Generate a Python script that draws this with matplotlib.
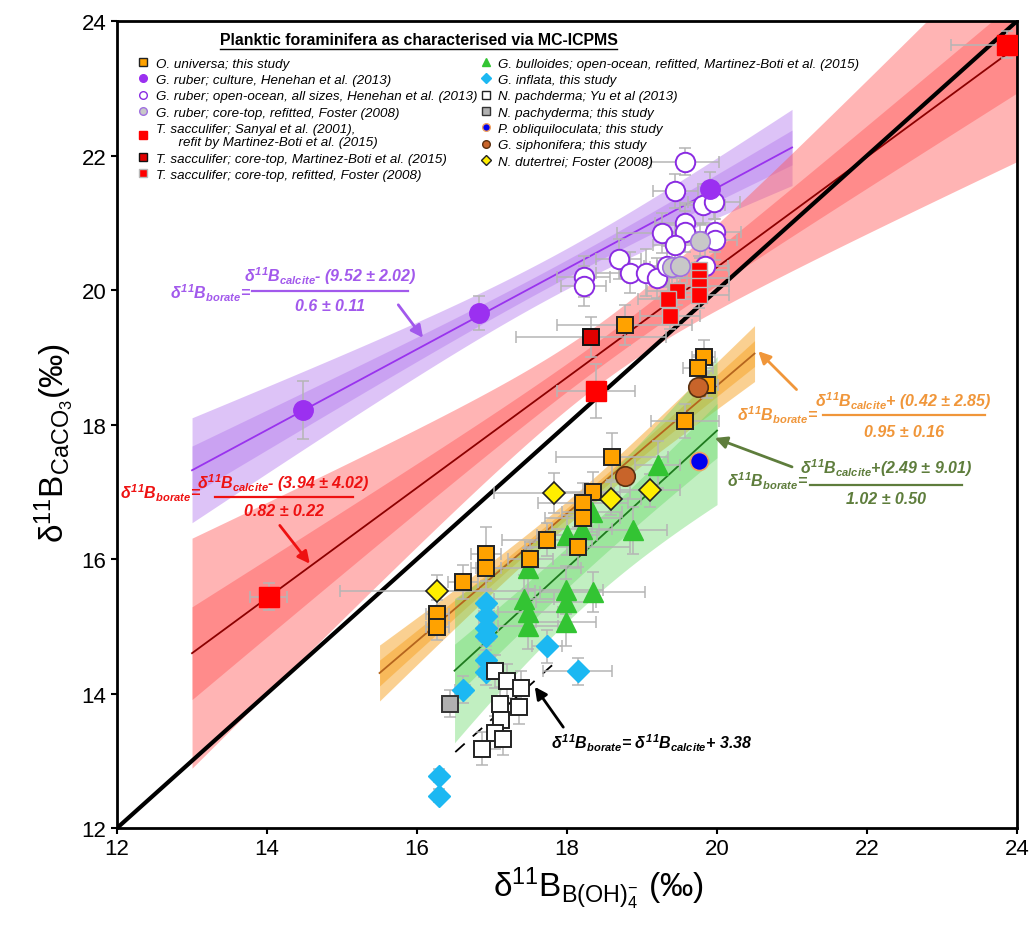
import numpy as np
import matplotlib
matplotlib.use('Agg')
import matplotlib.pyplot as plt
from matplotlib.lines import Line2D
from matplotlib import font_manager

# pick a narrow font for the equations if there is one
names = set(f.name for f in font_manager.fontManager.ttflist)
NARROW = 'Liberation Sans Narrow' if 'Liberation Sans Narrow' in names else 'Liberation Sans'

plt.rcParams['font.family'] = ['Liberation Sans', 'DejaVu Sans']
plt.rcParams['mathtext.fontset'] = 'custom'
plt.rcParams['mathtext.it'] = NARROW + ':italic:bold'
plt.rcParams['mathtext.rm'] = NARROW + ':italic:bold'
plt.rcParams['mathtext.bf'] = NARROW + ':bold'
plt.rcParams['mathtext.sf'] = 'Liberation Sans'

# ---- data ----
# O. universa; this study
univ_x = [19.82, 19.75, 19.86, 19.57, 18.60, 18.34, 18.21, 18.21, 17.73, 18.14, 17.51, 16.92, 16.92, 16.61, 16.27, 16.27, 18.77]
univ_y = [19.01, 18.84, 18.59, 18.05, 17.52, 16.99, 16.83, 16.61, 16.29, 16.18, 16.00, 16.08, 15.86, 15.66, 15.19, 14.99, 19.48]
univ_xerr = [0.15, 0.2, 0.15, 0.45, 0.75, 0.5, 0.6, 0.5, 0.6, 0.7, 0.3, 0.2, 0.2, 0.2, 0.15, 0.15, 0.9]
univ_yerr = [0.25, 0.2, 0.2, 0.25, 0.35, 0.3, 0.3, 0.3, 0.25, 0.3, 0.25, 0.4, 0.3, 0.25, 0.2, 0.2, 0.3]

# G. ruber; culture
rc_x = [14.48, 16.82, 19.90]
rc_y = [18.21, 19.66, 21.50]
rc_xerr = [0.05, 0.05, 0.1]
rc_yerr = [0.43, 0.25, 0.25]

# G. ruber; open-ocean
ro_x = [19.57, 19.44, 19.81, 19.96, 19.57, 19.57, 19.27, 19.97, 19.97, 19.44, 18.69, 18.84, 19.05, 19.20, 18.22, 18.22, 19.33, 19.84]
ro_y = [21.91, 21.47, 21.27, 21.31, 21.00, 20.87, 20.85, 20.87, 20.75, 20.67, 20.46, 20.26, 20.26, 20.18, 20.20, 20.06, 20.35, 20.35]
ro_xerr = [0.45, 0.3, 0.3, 0.35, 0.4, 0.3, 0.6, 0.35, 0.3, 0.3, 0.3, 0.45, 0.35, 0.4, 0.35, 0.3, 0.3, 0.3]
ro_yerr = [0.2, 0.25, 0.3, 0.25, 0.3, 0.3, 0.3, 0.3, 0.3, 0.3, 0.3, 0.3, 0.35, 0.3, 0.3, 0.3, 0.3, 0.3]

# G. ruber; core-top, Foster
ct_x = [19.77, 19.40, 19.50]
ct_y = [20.73, 20.34, 20.35]
ct_xerr = [0.3, 0.3, 0.3]
ct_yerr = [0.25, 0.25, 0.25]

# T. sacculifer; Sanyal refit
ts_x = [14.02, 18.39, 23.87]
ts_y = [15.44, 18.50, 23.65]
ts_xerr = [0.25, 0.52, 0.75]
ts_yerr = [0.2, 0.4, 0.2]

# T. sacculifer; core-top, Martinez-Boti
tm_x = [18.32]
tm_y = [19.30]
tm_xerr = [1.0]
tm_yerr = [0.3]

# T. sacculifer; core-top, Foster
tf_x = [19.76, 19.76, 19.76, 19.76, 19.47, 19.34, 19.37]
tf_y = [20.30, 20.18, 20.06, 19.93, 19.98, 19.86, 19.62]
tf_xerr = [0.4, 0.4, 0.4, 0.4, 0.4, 0.4, 0.4]
tf_yerr = [0.2, 0.2, 0.2, 0.2, 0.2, 0.2, 0.2]

# G. bulloides
gb_x = [19.21, 18.88, 18.33, 18.20, 18.00, 17.48, 17.42, 17.48, 17.48, 17.98, 17.98, 17.98, 18.34]
gb_y = [17.40, 16.43, 16.70, 16.45, 16.36, 15.86, 15.41, 15.21, 15.01, 15.54, 15.36, 15.06, 15.51]
gb_xerr = [0.3, 0.45, 0.4, 0.4, 0.4, 0.7, 0.4, 0.4, 0.4, 0.5, 0.4, 0.4, 0.7]
gb_yerr = [0.35, 0.35, 0.3, 0.3, 0.3, 0.3, 0.35, 0.35, 0.35, 0.35, 0.35, 0.35, 0.3]

# G. inflata
gi_x = [16.92, 16.92, 16.92, 16.92, 16.92, 16.92, 16.61, 17.73, 18.14, 16.29, 16.29]
gi_y = [15.34, 15.15, 14.98, 14.85, 14.50, 14.32, 14.06, 14.70, 14.33, 12.78, 12.48]
gi_xerr = [0.1, 0.1, 0.1, 0.1, 0.1, 0.1, 0.1, 0.2, 0.46, 0.05, 0.05]
gi_yerr = [0.2, 0.2, 0.2, 0.2, 0.2, 0.2, 0.2, 0.25, 0.2, 0.1, 0.1]

# N. pachyderma; Yu et al
np_x = [17.04, 17.20, 17.38, 17.11, 17.36, 17.12, 17.04, 17.14, 16.87]
np_y = [14.33, 14.19, 14.08, 13.85, 13.80, 13.61, 13.42, 13.33, 13.18]
np_xerr = [0.1] * 9
np_yerr = [0.25] * 9

# N. pachyderma; this study
nt_x = [16.44]
nt_y = [13.85]
nt_yerr = [0.2]

# P. obliquiloculata
po_x = [19.76]
po_y = [17.46]

# G. siphonifera
gs_x = [19.75, 18.77]
gs_y = [18.56, 17.23]

# N. dutertrei
nd_x = [18.58, 19.11, 17.83, 16.27]
nd_y = [16.90, 17.02, 16.98, 15.52]
nd_xerr = [0.4, 0.4, 0.8, 1.3]
nd_yerr = [0.25, 0.25, 0.3, 0.25]

# regressions: calcite = slope * borate + intercept
fit_slope = [0.6, 0.82, 0.95, 1.02]
fit_icpt = [9.52, 3.94, -0.42, -2.49]
fit_lo = [13.0, 13.0, 15.5, 16.5]
fit_hi = [21.0, 24.0, 20.5, 20.0]
# confidence band shape: centre, outer (a, k), inner (a, k)
band_xm = [17.8, 18.5, 18.0, 18.2]
band_outer = [(0.3, 0.15), (0.45, 0.3), (0.18, 0.15), (0.8, 0.42)]
band_inner = [(0.13, 0.07), (0.2, 0.12), (0.08, 0.07), (0.3, 0.15)]
band_col = ['#b57bee', '#ff5a5a', '#f7a325', '#66d966']
band_alpha = [0.45, 0.45, 0.5, 0.4]
line_col = ['#9933ee', '#8b0000', '#b5651d', '#1e7a1e']

# Yu et al. offset line
dash_x = [16.51, 17.80]
dash_off = -3.38
ident = [12, 24]

fig = plt.figure(figsize=(10.32, 9.29), dpi=100)
ax = fig.add_axes([0.1134, 0.1076, 0.8721, 0.8687])

for i in range(4):
    xs = np.linspace(fit_lo[i], fit_hi[i], 200)
    yl = fit_slope[i] * xs + fit_icpt[i]
    ao, ko = band_outer[i]
    ai, ki = band_inner[i]
    hwo = np.sqrt(ao ** 2 + (ko * (xs - band_xm[i])) ** 2)
    hwi = np.sqrt(ai ** 2 + (ki * (xs - band_xm[i])) ** 2)
    ax.fill_between(xs, yl - hwo, yl + hwo, color=band_col[i], alpha=band_alpha[i], lw=0, zorder=1)
    ax.fill_between(xs, yl - hwi, yl + hwi, color=band_col[i], alpha=band_alpha[i], lw=0, zorder=1)
    ax.plot(xs, yl, color=line_col[i], lw=1.3, zorder=2)

ax.plot(ident, ident, color='black', lw=3, zorder=3)
dx = np.array(dash_x)
ax.plot(dx, dx + dash_off, color='black', lw=1.3, dashes=(7, 6), zorder=3)

# error bars first, so the markers sit on top
ecol = '#b5b5b5'
eb = dict(fmt='none', ecolor=ecol, elinewidth=1.1, capsize=4, capthick=1.1, zorder=4)
ax.errorbar(ro_x, ro_y, xerr=ro_xerr, yerr=ro_yerr, **eb)
ax.errorbar(ct_x, ct_y, xerr=ct_xerr, yerr=ct_yerr, **eb)
ax.errorbar(rc_x, rc_y, xerr=rc_xerr, yerr=rc_yerr, **eb)
ax.errorbar(gb_x, gb_y, xerr=gb_xerr, yerr=gb_yerr, **eb)
ax.errorbar(gi_x, gi_y, xerr=gi_xerr, yerr=gi_yerr, **eb)
ax.errorbar(np_x, np_y, xerr=np_xerr, yerr=np_yerr, **eb)
ax.errorbar(nt_x, nt_y, yerr=nt_yerr, **eb)
ax.errorbar(univ_x, univ_y, xerr=univ_xerr, yerr=univ_yerr, **eb)
ax.errorbar(ts_x, ts_y, xerr=ts_xerr, yerr=ts_yerr, **eb)
ax.errorbar(tm_x, tm_y, xerr=tm_xerr, yerr=tm_yerr, **eb)
ax.errorbar(tf_x, tf_y, xerr=tf_xerr, yerr=tf_yerr, **eb)
ax.errorbar(nd_x, nd_y, xerr=nd_xerr, yerr=nd_yerr, **eb)

st = {
    'univ': dict(marker='s', ms=12, mfc='#ffa200', mec='#222222', mew=1.4),
    'rc': dict(marker='o', ms=14, mfc='#9b30f0', mec='#9b30f0', mew=1),
    'ro': dict(marker='o', ms=14, mfc='white', mec='#8a2be2', mew=1.4),
    'ct': dict(marker='o', ms=14, mfc='#c8c8c8', mec='#a070e0', mew=1.2),
    'ts': dict(marker='s', ms=15, mfc='#ff0000', mec='#ff0000', mew=1),
    'tm': dict(marker='s', ms=12, mfc='#e00000', mec='#111111', mew=1.4),
    'tf': dict(marker='s', ms=12, mfc='#ff0000', mec='#b8b8b8', mew=1),
    'gb': dict(marker='^', ms=14, mfc='#33c433', mec='#33c433', mew=1),
    'gi': dict(marker='D', ms=11, mfc='#1cb8f2', mec='#1cb8f2', mew=1),
    'np': dict(marker='s', ms=12, mfc='white', mec='#222222', mew=1.4),
    'nt': dict(marker='s', ms=12, mfc='#b0b0b0', mec='#333333', mew=1.4),
    'po': dict(marker='o', ms=13, mfc='#0000ee', mec='#f0a060', mew=1.2),
    'gs': dict(marker='o', ms=14, mfc='#c8642a', mec='#5a3010', mew=1.2),
    'nd': dict(marker='D', ms=11, mfc='#ffee00', mec='#222222', mew=1.2),
}

def pts(x, y, key):
    ax.plot(x, y, ls='none', zorder=5, **st[key])

pts(ro_x, ro_y, 'ro')
pts(ct_x, ct_y, 'ct')
pts(rc_x, rc_y, 'rc')
pts(gb_x, gb_y, 'gb')
pts(gi_x, gi_y, 'gi')
pts(np_x, np_y, 'np')
pts(nt_x, nt_y, 'nt')
pts(univ_x, univ_y, 'univ')
pts(tf_x, tf_y, 'tf')
pts(ts_x, ts_y, 'ts')
pts(tm_x, tm_y, 'tm')
pts(gs_x, gs_y, 'gs')
pts(nd_x, nd_y, 'nd')
pts(po_x, po_y, 'po')

# ---- equations ----
EQ = dict(fontsize=11.5, fontstyle='italic', fontweight='bold', family=[NARROW, 'DejaVu Sans'])
LHS = r'$\delta^{11}B_{borate}$='

def frac(xl, yl, num, den, x0, x1, ybar, ynum, yden, color):
    ax.text(xl, yl, LHS, color=color, ha='left', va='baseline', zorder=6, **EQ)
    xc = (x0 + x1) / 2
    ax.text(xc, ynum, num, color=color, ha='center', va='baseline', zorder=6, **EQ)
    ax.plot([x0, x1], [ybar, ybar], color=color, lw=1.6, zorder=6)
    ax.text(xc, yden, den, color=color, ha='center', va='baseline', zorder=6, **EQ)

c_pur, c_red, c_org, c_grn = '#a259ec', '#ee1111', '#f0963a', '#5e7d3c'
frac(12.71, 19.88, r'$\delta^{11}B_{calcite}$- (9.52 ± 2.02)', '0.6 ± 0.11',
     13.80, 15.88, 19.99, 20.14, 19.70, c_pur)
frac(12.04, 16.90, r'$\delta^{11}B_{calcite}$- (3.94 ± 4.02)', '0.82 ± 0.22',
     13.30, 15.14, 16.92, 17.05, 16.65, c_red)
frac(20.27, 18.07, r'$\delta^{11}B_{calcite}$+ (0.42 ± 2.85)', '0.95 ± 0.16',
     21.41, 23.57, 18.14, 18.27, 17.83, c_org)
frac(20.13, 17.08, r'$\delta^{11}B_{calcite}$+(2.49 ± 9.01)', '1.02 ± 0.50',
     21.24, 23.27, 17.10, 17.28, 16.83, c_grn)
ax.text(17.78, 13.18, r'$\delta^{11}B_{borate}$= $\delta^{11}B_{calcite}$+ 3.38',
        color='black', ha='left', va='baseline', zorder=6, **EQ)

arr = lambda c: dict(arrowstyle='-|>', color=c, lw=2, mutation_scale=18, shrinkA=0, shrinkB=0)
ax.annotate('', xy=(16.08, 19.29), xytext=(15.75, 19.78), arrowprops=arr(c_pur), zorder=6)
ax.annotate('', xy=(14.57, 15.93), xytext=(14.17, 16.50), arrowprops=arr(c_red), zorder=6)
ax.annotate('', xy=(20.55, 19.09), xytext=(21.06, 18.52), arrowprops=arr(c_org), zorder=6)
ax.annotate('', xy=(19.97, 17.80), xytext=(21.00, 17.37), arrowprops=arr(c_grn), zorder=6)
ax.annotate('', xy=(17.57, 14.10), xytext=(17.95, 13.50), arrowprops=arr('black'), zorder=6)

# ---- legend ----
labels = [
    'O. universa; this study',
    'G. ruber; culture, Henehan et al. (2013)',
    'G. ruber; open-ocean, all sizes, Henehan et al. (2013)',
    'G. ruber; core-top, refitted, Foster (2008)',
    'T. sacculifer; Sanyal et al. (2001),\n      refit by Martinez-Boti et al. (2015)',
    'T. sacculifer; core-top, Martinez-Boti et al. (2015)',
    'T. sacculifer; core-top, refitted, Foster (2008)',
    'G. bulloides; open-ocean, refitted, Martinez-Boti et al. (2015)',
    'G. inflata, this study',
    'N. pachderma; Yu et al (2013)',
    'N. pachyderma; this study',
    'P. obliquiloculata; this study',
    'G. siphonifera; this study',
    'N. dutertrei; Foster (2008)',
]
keys = ['univ', 'rc', 'ro', 'ct', 'ts', 'tm', 'tf', 'gb', 'gi', 'np', 'nt', 'po', 'gs', 'nd']
handles = []
for k in keys:
    s = dict(st[k])
    s['ms'] = 5.5
    s['mew'] = min(s['mew'], 1.0)
    handles.append(Line2D([], [], ls='none', **s))
leg = ax.legend(handles, labels, ncol=2, loc='upper left', bbox_to_anchor=(0.022, 0.955),
                frameon=False, prop=dict(family='Liberation Sans', style='italic', size=9.6),
                handlelength=1.0, handletextpad=0.45, labelspacing=0.3, columnspacing=0.1,
                borderpad=0, borderaxespad=0)

title = ax.text(0.335, 0.977, 'Planktic foraminifera as characterised via MC-ICPMS',
                transform=ax.transAxes, ha='center', va='center', fontsize=11.4, fontweight='bold')
fig.canvas.draw()
bb = title.get_window_extent().transformed(ax.transAxes.inverted())
ax.plot([bb.x0, bb.x1], [bb.y0 - 0.002, bb.y0 - 0.002], transform=ax.transAxes,
        color='black', lw=1, clip_on=False)

# ---- axes ----
ax.set_xlim(12, 24)
ax.set_ylim(12, 24)
ax.set_xticks(np.arange(12, 25, 2))
ax.set_yticks(np.arange(12, 25, 2))
ax.tick_params(labelsize=16, direction='out', length=4, width=1.5)
for sp in ax.spines.values():
    sp.set_linewidth(2)
ax.set_xlabel('δ$^{\\mathsf{11}}$B$_{\\mathsf{B(OH)}_{\\mathsf{4}}^{\\mathsf{-}}}$ (‰)', fontsize=24, labelpad=2)
ax.xaxis.set_label_coords(0.535, -0.045)
ax.set_ylabel('δ$^{\\mathsf{11}}$B$_{\\mathsf{CaCO}_{\\mathsf{3}}}$(‰)', fontsize=24, labelpad=4)
ax.yaxis.set_label_coords(-0.046, 0.478)

fig.savefig('out.png', dpi=100)
